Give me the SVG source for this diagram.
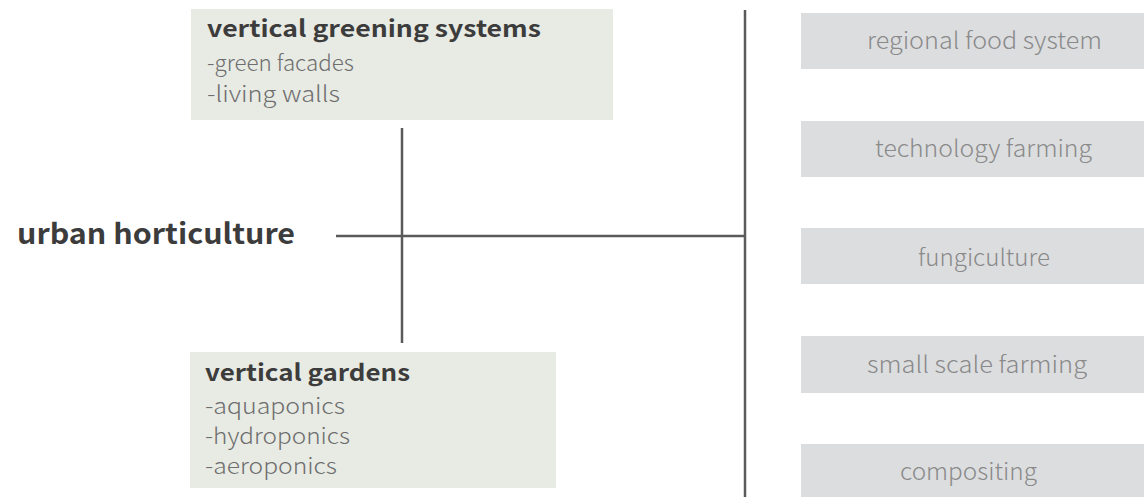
<svg xmlns="http://www.w3.org/2000/svg" width="1144" height="497" viewBox="0 0 1144 497">
<style>
.lbox{fill:#e8eae4}
.rbox{fill:#dcdddf}
text{font-family:"Noto Sans CJK JP","Noto Sans",sans-serif}
.ttl{font-weight:bold;fill:#3c3c3c}
.sub{font-weight:300;font-size:22px;fill:#6e6e6e}
.rt{font-weight:300;font-size:23px;fill:#8a8a8a}
.ln{stroke:#5a5a5a;stroke-width:2.5;fill:none}
</style>
<rect width="1144" height="497" fill="#ffffff"/>
<g id="connectors">
<line class="ln" x1="336" y1="236" x2="745" y2="236"/>
<line class="ln" x1="402" y1="128" x2="402" y2="343"/>
<line class="ln" x1="745" y1="10" x2="745" y2="497"/>
</g>
<g id="urban-horticulture">
<text class="ttl" x="17" y="244" font-size="28" textLength="278" lengthAdjust="spacingAndGlyphs">urban horticulture</text>
</g>
<g id="vertical-greening-systems">
<rect class="lbox" x="191" y="9" width="422" height="111"/>
<text class="ttl" x="207" y="37" font-size="23" textLength="334" lengthAdjust="spacingAndGlyphs">vertical greening systems</text>
<text class="sub" x="207" y="71" textLength="147" lengthAdjust="spacingAndGlyphs">-green facades</text>
<text class="sub" x="207" y="102" textLength="133" lengthAdjust="spacingAndGlyphs">-living walls</text>
</g>
<g id="vertical-gardens">
<rect class="lbox" x="190" y="352" width="366" height="136"/>
<text class="ttl" x="205" y="381" font-size="23" textLength="205" lengthAdjust="spacingAndGlyphs">vertical gardens</text>
<text class="sub" x="205" y="414" textLength="140" lengthAdjust="spacingAndGlyphs">-aquaponics</text>
<text class="sub" x="205" y="444" textLength="145" lengthAdjust="spacingAndGlyphs">-hydroponics</text>
<text class="sub" x="205" y="474" textLength="132" lengthAdjust="spacingAndGlyphs">-aeroponics</text>
</g>
<g id="regional-food-system">
<rect class="rbox" x="801" y="13" width="343" height="56"/>
<text class="rt" x="867" y="49" textLength="235" lengthAdjust="spacingAndGlyphs">regional food system</text>
</g>
<g id="technology-farming">
<rect class="rbox" x="801" y="121" width="343" height="56"/>
<text class="rt" x="875" y="157" textLength="217" lengthAdjust="spacingAndGlyphs">technology farming</text>
</g>
<g id="fungiculture">
<rect class="rbox" x="801" y="228" width="343" height="56"/>
<text class="rt" x="918" y="266" textLength="132" lengthAdjust="spacingAndGlyphs">fungiculture</text>
</g>
<g id="small-scale-farming">
<rect class="rbox" x="801" y="336" width="343" height="57"/>
<text class="rt" x="867" y="373" textLength="220" lengthAdjust="spacingAndGlyphs">small scale farming</text>
</g>
<g id="compositing">
<rect class="rbox" x="801" y="444" width="343" height="53"/>
<text class="rt" x="900" y="480" textLength="137" lengthAdjust="spacingAndGlyphs">compositing</text>
</g>
</svg>
